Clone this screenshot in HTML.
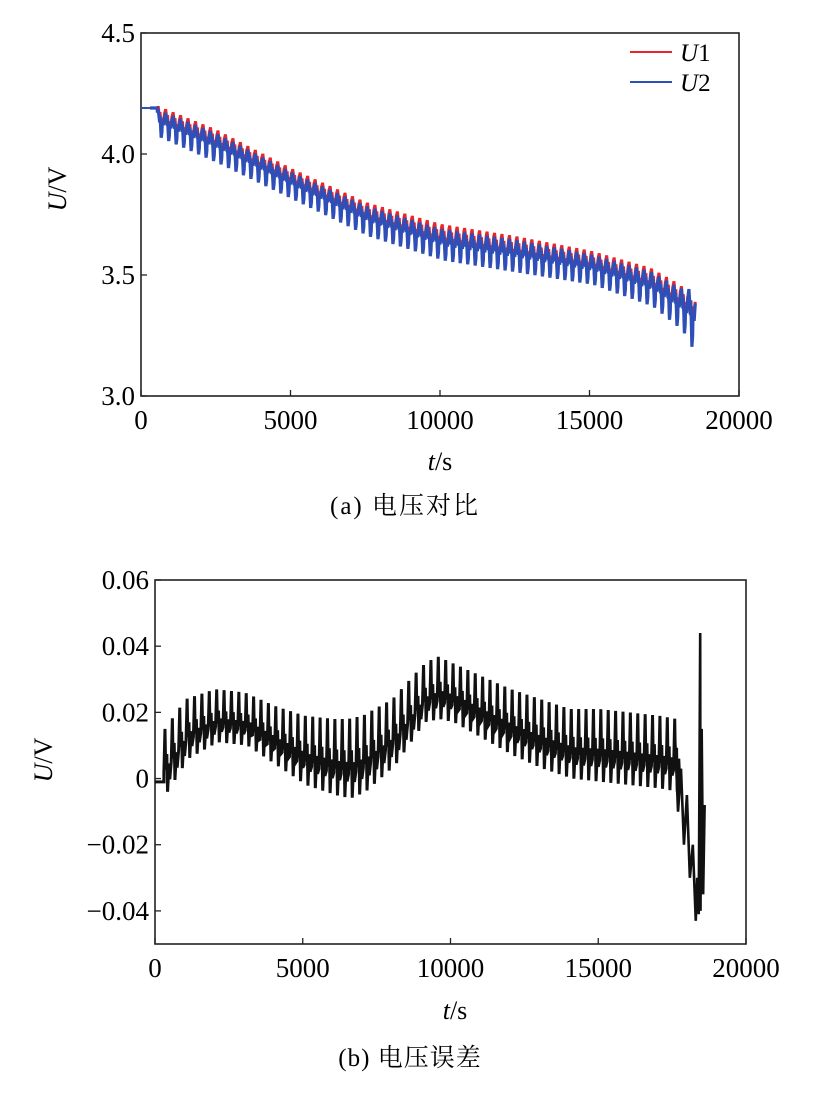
<!DOCTYPE html>
<html><head><meta charset="utf-8">
<style>
body{margin:0;background:#fff;}
svg text{font-family:"Liberation Serif","Noto Serif CJK SC",serif;}
</style></head>
<body>
<svg id="fig" width="818" height="1094" viewBox="0 0 818 1094" xmlns="http://www.w3.org/2000/svg">
<g id="chartA"></g>
<g id="chartB"></g>
<text x="405" y="514" text-anchor="middle" font-size="25" letter-spacing="2" font-family="Liberation Sans, Noto Sans CJK SC, sans-serif">(a) 电压对比</text>
<text x="410" y="1066" text-anchor="middle" font-size="25" letter-spacing="1">(b) 电压误差</text>
</svg>
<script>
const NS="http://www.w3.org/2000/svg";
// ---- chart A data ----
const aXTicks=[0,5000,10000,15000,20000];
const aYTicks=[3.0,3.5,4.0,4.5];
const aYTickLabels=["3.0","3.5","4.0","4.5"];
const aT=[300,500,2500,5000,7500,10000,12500,15000,17000,18000,18450];
const aU1Top=[4.19,4.20,4.10,3.94,3.80,3.71,3.66,3.60,3.53,3.46,3.40];
const aU1Low=[4.19,4.08,3.97,3.82,3.67,3.57,3.52,3.47,3.38,3.29,3.30];
const aU2Top=[4.19,4.185,4.085,3.925,3.785,3.69,3.645,3.585,3.515,3.445,3.44];
const aU2Low=[4.19,4.07,3.96,3.81,3.66,3.56,3.51,3.46,3.37,3.27,3.17];
const aPeriod=250;
// ---- chart B data ----
const bXTicks=[0,5000,10000,15000,20000];
const bYTicks=[-0.04,-0.02,0,0.02,0.04,0.06];
const bYTickLabels=["\u22120.04","\u22120.02","0","0.02","0.04","0.06"];
const bT=[300,1000,2000,3000,4000,5000,6000,6500,7000,8000,9000,9500,10000,11000,12000,13000,14000,15000,16000,17000,17600];
const bTop=[0.015,0.024,0.027,0.026,0.022,0.019,0.018,0.018,0.019,0.024,0.034,0.037,0.035,0.031,0.027,0.024,0.021,0.021,0.020,0.019,0.018];
const bLow=[-0.004,0.006,0.011,0.010,0.004,-0.002,-0.005,-0.006,-0.004,0.004,0.017,0.018,0.017,0.012,0.007,0.003,0.000,-0.001,-0.002,-0.003,-0.004];
const bTailT=[17600,17700,17800,17900,18000,18100,18200,18300,18350,18400,18450,18460,18500,18550,18600];
const bTailV=[0.012,-0.01,0.003,-0.02,-0.005,-0.03,-0.02,-0.043,-0.03,-0.041,0.044,-0.04,0.015,-0.035,-0.008];
const bPeriod=250;

function el(tag,attrs,parent){const e=document.createElementNS(NS,tag);for(const k in attrs)e.setAttribute(k,attrs[k]);parent.appendChild(e);return e;}
function interp(ts,vs,t){if(t<=ts[0])return vs[0];for(let i=1;i<ts.length;i++){if(t<=ts[i]){const f=(t-ts[i-1])/(ts[i]-ts[i-1]);return vs[i-1]+f*(vs[i]-vs[i-1]);}}return vs[vs.length-1];}
function sawA(ts,top,low,period,X,Y){let d="";let first=true;const end=ts[ts.length-1];for(let t=ts[0];t<=end;t+=period){const hi=interp(ts,top,t),lo=interp(ts,low,t);const r=hi-lo;
 d+=(first?"M":"L")+X(t)+","+Y(hi-r*0.1)+" L"+X(t+period*0.1)+","+Y(hi)+" L"+X(t+period*0.3)+","+Y(hi-r*0.45)+" L"+X(t+period*0.35)+","+Y(hi-r*0.2)+" L"+X(t+period*0.5)+","+Y(lo)+" L"+X(t+period*0.6)+","+Y(lo+r*0.2)+" L"+X(t+period*0.65)+","+Y(hi-r*0.4)+" L"+X(t+period*0.8)+","+Y(hi-r*0.55)+" L"+X(t+period*0.95)+","+Y(hi-r*0.25);first=false;}return d;}
function sawB(ts,top,low,period,X,Y){let d="";let first=true;const end=ts[ts.length-1];for(let t=ts[0];t<=end;t+=period){const hi=interp(ts,top,t),lo=interp(ts,low,t);const r=hi-lo;
 d+=(first?"M":"L")+X(t)+","+Y(lo+r*0.3)+" L"+X(t+period*0.15)+","+Y(hi)+" L"+X(t+period*0.25)+","+Y(lo+r*0.35)+" L"+X(t+period*0.4)+","+Y(lo+r*0.6)+" L"+X(t+period*0.5)+","+Y(lo)+" L"+X(t+period*0.7)+","+Y(lo+r*0.45)+" L"+X(t+period*0.8)+","+Y(lo+r*0.2);first=false;}return d;}

function axes(g,L,R,T,B,X,Y,xt,yt,ytl,tickFont){
 const box=el("rect",{x:L,y:T,width:R-L,height:B-T,fill:"none",stroke:"#222","stroke-width":1.6},g);
 
 
 xt.forEach(v=>{const x=X(v);
  const tk=el("line",{x1:x,x2:x,y1:B,y2:B-6,stroke:"#222","stroke-width":1.3},g);
  
  
  const tl=el("text",{x:x,y:B+33,"text-anchor":"middle","font-size":tickFont},g);tl.textContent=v;
  
  });
 yt.forEach((v,i)=>{const y=Y(v);
  const tk=el("line",{x1:L,x2:L+6,y1:y,y2:y,stroke:"#222","stroke-width":1.3},g);
  
  
  const tl=el("text",{x:L-6,y:y+9,"text-anchor":"end","font-size":tickFont},g);tl.textContent=ytl[i];
  
  });
}
function titles(g,xcx,xy,ycx,ycy){
 const xt=el("text",{x:xcx,y:xy,"text-anchor":"middle","font-size":26},g);
 xt.innerHTML='<tspan font-style="italic">t</tspan>/s';
 
 
 const yt=el("text",{x:ycx,y:ycy,"text-anchor":"middle","font-size":26,transform:`rotate(-90 ${ycx} ${ycy})`},g);
 yt.innerHTML='<tspan font-style="italic">U</tspan>/V';
 
 
}
// chart A
(function(){const g=document.getElementById("chartA");
 const L=141,R=739,T=33,B=396;
 const X=t=>L+(t/20000)*(R-L), Y=v=>B-(v-3)/1.5*(B-T);
 axes(g,L,R,T,B,X,Y,aXTicks,aYTicks,aYTickLabels,27);
 titles(g,440,470,66,189);
 const p1=el("path",{d:sawA(aT,aU1Top,aU1Low,aPeriod,X,Y),fill:"none",stroke:"#e8262a","stroke-width":3},g);
 
 
 const p2=el("path",{d:sawA(aT,aU2Top,aU2Low,aPeriod,X,Y),fill:"none",stroke:"#2e4fb8","stroke-width":3.2},g);
 
 
 const l1=el("line",{x1:630,x2:672,y1:52,y2:52,stroke:"#e8262a","stroke-width":2},g);
 
 const t1=el("text",{x:680,y:61,"font-size":25},g);t1.innerHTML='<tspan font-style="italic">U</tspan>1';
 
 const l2=el("line",{x1:630,x2:672,y1:82,y2:82,stroke:"#2e4fb8","stroke-width":2},g);
 
 const t2=el("text",{x:680,y:91,"font-size":25},g);t2.innerHTML='<tspan font-style="italic">U</tspan>2';
 
 const flat=el("line",{x1:X(0),x2:X(aT[0]),y1:Y(aU1Top[0]),y2:Y(aU1Top[0]),stroke:"#2e4fb8","stroke-width":2},g);
 
})();
// chart B
(function(){const g=document.getElementById("chartB");
 const L=155,R=746,T=580,B=944;
 const X=t=>L+(t/20000)*(R-L), Y=v=>T+(0.06-v)/0.11*(B-T);
 axes(g,L,R,T,B,X,Y,bXTicks,bYTicks,bYTickLabels,27);
 titles(g,455,1019,52,760);
 const p=el("path",{d:"M"+X(0)+","+Y(-0.001)+" L"+X(bT[0])+","+Y(-0.001)+" "+sawB(bT,bTop,bLow,bPeriod,X,Y).replace(/^M/,"L"),fill:"none",stroke:"#111","stroke-width":3},g);
 
 
 const tail=el("polyline",{points:bTailT.map((t,i)=>X(t)+","+Y(bTailV[i])).join(" "),fill:"none",stroke:"#111","stroke-width":2.6},g);
 
 
})();
</script>
</body></html>
